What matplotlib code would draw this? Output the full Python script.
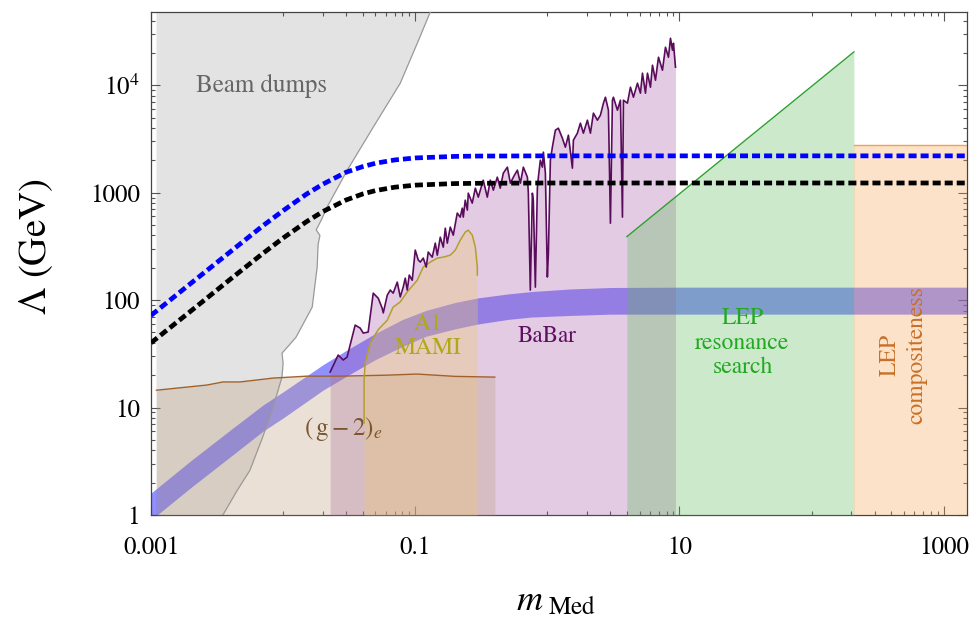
import matplotlib
matplotlib.use("Agg")
import matplotlib.pyplot as plt
from matplotlib.ticker import FixedLocator, NullFormatter, LogLocator

plt.rcParams["font.family"] = "STIXGeneral"
plt.rcParams["mathtext.fontset"] = "stix"

# ---------------- axis ranges ----------------
XMIN, XMAX = 0.001, 1500.0
YMIN, YMAX = 1.0, 4.8e4
FILL_XMIN = 0.0011

# ---------------- beam dump boundary (m, Lambda), bottom -> top ----------------
beam_m = [0.0035, 0.0045, 0.0056, 0.0070, 0.0084, 0.0098, 0.0100, 0.0098, 0.0125,
          0.0166, 0.0181, 0.0184, 0.0190, 0.0178, 0.0195, 0.0215, 0.0306, 0.0481,
          0.0769, 0.1035, 0.130]
beam_lam = [1.0, 1.7, 2.6, 5.3, 10.1, 19.2, 26.0, 32.0, 45.0,
            86.0, 203.0, 330.0, 400.0, 450.0, 560.0, 733.0, 1620.0, 4070.0,
            10400.0, 24500.0, 48000.0]

# ---------------- projected reach (dashed) ----------------
reach_m = [0.001, 0.002, 0.004, 0.007, 0.01, 0.015, 0.02, 0.03, 0.04, 0.05, 0.07, 0.1,
           0.2, 0.3, 1.0, 10.0, 100.0, 1500.0]
reach_blue = [72, 143, 283, 490, 680, 968, 1200, 1550, 1747, 1877, 2016, 2104,
              2175, 2190, 2200, 2200, 2200, 2200]
reach_black = [40, 79, 157, 271, 378, 536, 667, 855, 972, 1045, 1124, 1175,
               1215, 1222, 1230, 1230, 1230, 1230]

# ---------------- preferred band ----------------
band_m = [0.001, 0.002, 0.004, 0.007, 0.01, 0.02, 0.03, 0.05, 0.08, 0.12, 0.2, 0.3,
          0.5, 0.75, 1.5, 3.0, 10.0, 1500.0]
band_hi = [1.6, 3.2, 6.2, 10.5, 14, 25, 34, 49, 66, 80, 95, 105, 114, 120, 127, 131, 132, 132]
band_lo = [0.9, 1.8, 3.5, 6.0, 8.0, 14.5, 19.5, 28, 37, 46, 54, 60, 66, 69.5, 72, 74, 74, 74]

# ---------------- (g-2)_e ----------------
g2_m = [0.0011, 0.00265, 0.0035, 0.0047, 0.0084, 0.0152, 0.027, 0.06, 0.103, 0.2, 0.40]
g2_lam = [14.5, 16.2, 17.3, 17.3, 18.8, 19.6, 19.6, 20.0, 20.5, 19.5, 19.2]

# ---------------- A1 MAMI ----------------
a1_m = [0.041, 0.041, 0.0418, 0.0456, 0.0524, 0.0614, 0.068, 0.0769, 0.0869, 0.1035,
        0.115, 0.130, 0.147, 0.163, 0.184, 0.201, 0.219, 0.239, 0.252, 0.270, 0.285,
        0.295, 0.295]
a1_lam = [7.2, 18, 26.5, 40, 53, 65, 86, 96, 119, 153,
          203, 226, 246, 251, 262, 292, 361, 429, 448, 403, 311,
          203, 171]

# ---------------- BaBar ----------------
babar_m = [0.0227, 0.0261, 0.0285, 0.0305, 0.0333, 0.0351, 0.0383, 0.0404, 0.0440, 0.0481,
           0.0525, 0.0562, 0.0573, 0.0614, 0.0647, 0.0681, 0.0731, 0.0770, 0.0811, 0.0840,
           0.0870, 0.0901, 0.0949, 0.100, 0.1054, 0.1091, 0.115, 0.1211, 0.1254, 0.1345,
           0.1418, 0.1468, 0.1547, 0.163, 0.1688, 0.1748, 0.1842, 0.194, 0.208, 0.219,
           0.227, 0.231, 0.239, 0.248, 0.252, 0.270, 0.285, 0.300, 0.311, 0.327,
           0.351, 0.370, 0.390, 0.418, 0.440, 0.464, 0.498, 0.525, 0.553, 0.593,
           0.625, 0.658, 0.706, 0.718, 0.743, 0.770, 0.783, 0.811, 0.840, 0.855,
           0.885, 0.917, 0.933, 0.966, 1.000, 1.018, 1.054, 1.091, 1.150, 1.211,
           1.299, 1.369, 1.443, 1.547, 1.574, 1.687, 1.778, 1.874, 2.009, 2.118,
           2.231, 2.392, 2.521, 2.657, 2.751, 2.898, 3.001, 3.108, 3.162, 3.391,
           3.573, 3.700, 3.765, 4.036, 4.254, 4.482, 4.807, 5.065, 5.245, 5.527,
           5.724, 6.031, 6.245, 6.580, 6.934, 7.433, 7.832, 8.254, 8.547, 8.851,
           9.005, 9.326]
babar_lam = [21.4, 30.8, 27.7, 29.5, 45.3, 58.5, 54.9, 49.3, 50.4, 116,
             104, 84, 76, 111, 124, 116, 147, 107, 132, 160,
             124, 171, 153, 292, 236, 226, 246, 203, 280, 251,
             339, 262, 385, 311, 467, 339, 478, 402, 645, 592,
             717, 592, 851, 688, 989, 799, 1101, 908, 1055, 1307,
             908, 1307, 1055, 1394, 1101, 1518, 1727, 1225, 1394, 1619,
             1225, 1727, 1394, 989, 124, 989, 851, 132, 1101, 1394,
             2005, 1727, 2381, 1518, 164, 274, 2005, 2650, 3814, 3981,
             3214, 2650, 3427, 1690, 3077, 3575, 4433, 3575, 4725, 3575,
             5492, 4725, 5260, 6805, 7730, 5853, 520, 7250, 7730, 5853,
             7250, 592, 7250, 6805, 9580, 7730, 10440, 8430, 12940, 8430,
             12940, 9580, 15350, 11130, 18210, 13790, 22550, 18210, 27360, 21170,
             24590, 14700]

# ---------------- LEP ----------------
lep_res_m = [4.0, 209.0]
lep_res_lam = [390.0, 20400.0]
lep_comp_m = [209.0, XMAX]
lep_comp_lam = [2770.0, 2770.0]

fig = plt.figure(figsize=(9.74, 6.22), dpi=100)
ax = fig.add_axes([151 / 974, 1 - 515 / 622, 816 / 974, 503 / 622])
ax.set_xscale("log")
ax.set_yscale("log")
ax.set_xlim(XMIN, XMAX)
ax.set_ylim(YMIN, YMAX)

# beam dumps (opaque grey)
ax.fill([FILL_XMIN] + beam_m + [FILL_XMIN], [YMIN] + beam_lam + [YMAX],
        color="#e3e3e3", lw=0, zorder=1)
ax.plot(beam_m, beam_lam, color="#999999", lw=0.9, zorder=5)

# preferred band
ax.fill_between(band_m, band_lo, band_hi, color="#4646ff", alpha=0.6, lw=0, zorder=2)

# translucent exclusion regions
ax.fill_between(babar_m, YMIN, babar_lam, color="#a255a5", alpha=0.3, lw=0, zorder=3)
ax.fill_between(g2_m, YMIN, g2_lam, color="#bc9b7a", alpha=0.3, lw=0, zorder=3)
ax.fill_between(a1_m, YMIN, a1_lam, color="#f0cc68", alpha=0.3, lw=0, zorder=3)
ax.fill_between(lep_res_m, YMIN, lep_res_lam, color="#58bc55", alpha=0.3, lw=0, zorder=3)
ax.fill_between(lep_comp_m, YMIN, lep_comp_lam, color="#f8a24b", alpha=0.3, lw=0, zorder=3)

# boundary curves
ax.plot(g2_m, g2_lam, color="#a0622c", lw=1.0, zorder=5)
ax.plot(a1_m, a1_lam, color="#b4a028", lw=1.1, zorder=5)
ax.plot(babar_m, babar_lam, color="#5a0c5c", lw=1.2, zorder=5)
ax.plot(lep_res_m, lep_res_lam, color="#2ca02c", lw=1.0, zorder=5)
ax.plot(lep_comp_m, lep_comp_lam, color="#f5a050", lw=1.0, zorder=5)

# projected reach
ax.plot(reach_m, reach_blue, color="#0000ff", lw=3.4, dashes=(1.7, 0.85), zorder=6)
ax.plot(reach_m, reach_black, color="black", lw=3.4, dashes=(1.7, 0.85), zorder=6)

# region labels
ax.text(0.0069, 8600, "Beam dumps", color="#666666", fontsize=18, ha="center", va="baseline")
ax.text(1.0, 40.7, "BaBar", color="#5e1060", fontsize=16.5, ha="center", va="baseline")
ax.text(0.1254, 46, "A1\nMAMI", color="#b0a818", fontsize=17, ha="center", va="center",
        linespacing=1.15)
ax.text(0.0285, 5.55, r"$(\,\mathrm{g}-2)_e$", color="#7a5530", fontsize=18,
        ha="center", va="baseline")
ax.text(30, 40, "LEP\nresonance\nsearch", color="#22a822", fontsize=17, ha="center",
        va="center", linespacing=1.2)
ax.text(495, 31, "LEP\ncompositeness", color="#c87028", fontsize=17, ha="center",
        va="center", rotation=90, linespacing=1.35)

# ticks
ax.xaxis.set_major_locator(FixedLocator([0.001, 0.1, 10, 1000]))
ax.set_xticklabels(["0.001", "0.1", "10", "1000"])
x_minor = [0.01] + [k * 0.01 for k in range(2, 10)] + [1.0] + [float(k) for k in range(2, 10)] \
    + [100.0] + [k * 100.0 for k in range(2, 10)]
ax.xaxis.set_minor_locator(FixedLocator(x_minor))
ax.xaxis.set_minor_formatter(NullFormatter())
ax.yaxis.set_major_locator(FixedLocator([1, 10, 100, 1000, 1e4]))
ax.set_yticklabels(["1", "10", "100", "1000", r"$10^4$"])
ax.yaxis.set_minor_locator(LogLocator(base=10, subs=range(2, 10), numticks=20))
ax.yaxis.set_minor_formatter(NullFormatter())

ax.tick_params(which="both", direction="in", top=True, right=True, color="#555555",
               width=0.8, labelsize=18)
ax.tick_params(which="major", length=6.5)
ax.tick_params(which="minor", length=3)
ax.tick_params(axis="x", pad=15)
ax.tick_params(axis="y", pad=8)
for s in ax.spines.values():
    s.set_color("#444444")
    s.set_linewidth(0.9)

ax.set_ylabel(r"$\Lambda$ (GeV)", fontsize=28)
ax.yaxis.set_label_coords(-0.118, 0.533)
ax.set_xlabel(r"$m_{\ \mathrm{Med}}$", fontsize=26)
ax.xaxis.set_label_coords(0.497, -0.14)

fig.savefig("out.png", dpi=100)
